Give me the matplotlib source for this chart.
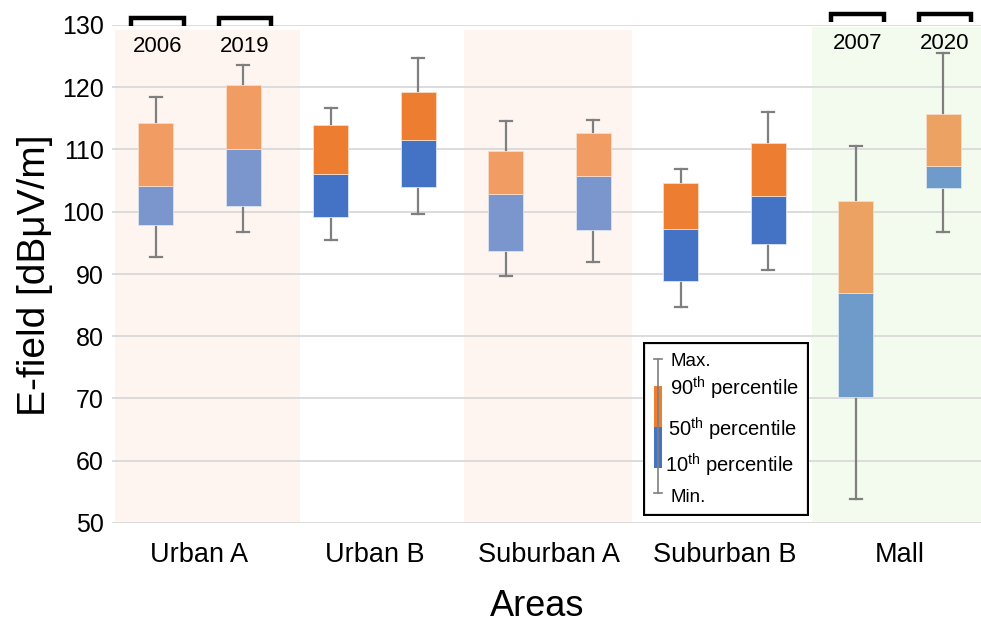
import numpy as np
import matplotlib
matplotlib.use("Agg")
import matplotlib.pyplot as plt
from matplotlib.patches import Rectangle

plt.rcParams['font.family'] = ['Liberation Sans', 'DejaVu Sans']
plt.rcParams['mathtext.fontset'] = 'custom'
plt.rcParams['mathtext.rm'] = 'Liberation Sans'

# measured E-field statistics per area, two campaigns each
areas = ["Urban A", "Urban B", "Suburban A", "Suburban B", "Mall"]
old_min = [92.8, 95.5, 89.7, 84.7, 53.9]
old_p10 = [97.8, 99.2, 93.7, 88.8, 70.3]
old_p50 = [104.2, 106.0, 102.8, 97.2, 87.0]
old_p90 = [114.2, 114.0, 109.8, 104.6, 101.8]
old_max = [118.5, 116.7, 114.5, 106.8, 110.6]

new_min = [96.7, 99.7, 91.9, 90.6, 96.7]
new_p10 = [101.0, 104.0, 97.0, 94.8, 103.8]
new_p50 = [110.0, 111.5, 105.7, 102.5, 107.4]
new_p90 = [120.4, 119.2, 112.6, 111.1, 115.7]
new_max = [123.6, 124.7, 114.7, 116.1, 125.5]

# years marked above the shaded groups
year_labels = {0: ("2006", "2019"), 4: ("2007", "2020")}

# colour pairs (upper half, lower half) for each area
upper_cols = ["#F19C62", "#ED7D31", "#F19C62", "#ED7D31", "#EBA262"]
lower_cols = ["#7B96CC", "#4472C4", "#7B96CC", "#4472C4", "#6F9BCB"]
whisker_col = "#7F7F7F"


def draw_box(ax, x, lo, p10, p50, p90, hi, c_up, c_low, w=0.2):
    ax.plot([x, x], [lo, hi], color=whisker_col, lw=1.6, zorder=2)
    for y in (lo, hi):
        ax.plot([x - 0.035, x + 0.035], [y, y], color=whisker_col, lw=1.6, zorder=2)
    ax.add_patch(Rectangle((x - w / 2, p10), w, p50 - p10, facecolor=c_low,
                           edgecolor="#DCE4F2", lw=0.6, zorder=3))
    ax.add_patch(Rectangle((x - w / 2, p50), w, p90 - p50, facecolor=c_up,
                           edgecolor="#F8DCC8", lw=0.6, zorder=3))


fig = plt.figure(figsize=(9.81, 6.25), dpi=100)
ax = fig.add_axes([112 / 981, 102 / 625, 875 / 981, 498 / 625])

x = np.arange(len(areas)) + 0.5

# background shading of alternate groups
ax.axvspan(0.017, 1.074, ymin=0, ymax=0.99, color="#FEF5F1", zorder=0, lw=0)
ax.axvspan(2.011, 2.971, ymin=0, ymax=0.99, color="#FEF5F1", zorder=0, lw=0)
ax.axvspan(4.0, 5.0, ymin=0, ymax=0.995, color="#F3FBEE", zorder=0, lw=0)

for i in range(len(areas)):
    draw_box(ax, x[i] - 0.25, old_min[i], old_p10[i], old_p50[i], old_p90[i],
             old_max[i], upper_cols[i], lower_cols[i])
    draw_box(ax, x[i] + 0.25, new_min[i], new_p10[i], new_p50[i], new_p90[i],
             new_max[i], upper_cols[i], lower_cols[i])

# year brackets on top of the plot
for i, (y_old, y_new) in year_labels.items():
    top, foot, ty = (131.1, 129.8, 126.6) if i == 0 else (131.8, 130.5, 127.1)
    for dx, lab in ((-0.25, y_old), (0.25, y_new)):
        xc = x[i] + dx + 0.01
        ax.plot([xc - 0.15, xc - 0.15, xc + 0.15, xc + 0.15], [foot, top, top, foot],
                color="black", lw=3.2, clip_on=False, zorder=5,
                solid_joinstyle="miter", solid_capstyle="butt")
        ax.text(xc, ty, lab, ha="center", va="center", fontsize=16, zorder=5)

ax.set_xlim(0, 5)
ax.set_ylim(50, 130)
ax.set_yticks(np.arange(50, 131, 10))
ax.tick_params(axis="y", labelsize=18, length=0, pad=6)
ax.set_xticks(x)
ax.set_xticklabels(areas, fontsize=19.5)
ax.tick_params(axis="x", length=0, pad=14)
ax.grid(axis="y", color="#D9D9D9", lw=1.3, zorder=1)
ax.set_axisbelow(True)
for s in ax.spines.values():
    s.set_visible(False)

fig.text(35 / 981, 1 - 275 / 625, "E-field [dB\u03bcV/m]", rotation=90,
         ha="center", va="center", fontsize=28)
fig.text(537 / 981, 1 - 607 / 625, "Areas", ha="center", va="center", fontsize=26)

# explanatory key for the box symbols
lg = fig.add_axes([643 / 981, 109 / 625, 166 / 981, 174 / 625])
lg.set_xlim(0, 166)
lg.set_ylim(174, 0)
lg.axis("off")
lg.add_patch(Rectangle((1, 1), 164, 172, facecolor="white", edgecolor="black", lw=1.6))
lg.plot([15, 15], [17, 151], color=whisker_col, lw=1.2)
lg.plot([11, 19], [17, 17], color=whisker_col, lw=1.2)
lg.plot([11, 19], [151, 151], color=whisker_col, lw=1.2)
lg.add_patch(Rectangle((11, 44), 8, 41, facecolor="#ED7D31", lw=0))
lg.add_patch(Rectangle((11, 85), 8, 41, facecolor="#4472C4", lw=0))
lg.text(28, 19, "Max.", va="center", fontsize=13.5)
lg.text(27, 46, r"90$^{\rm th}$ percentile", va="center", fontsize=14.5)
lg.text(25, 87, r"50$^{\rm th}$ percentile", va="center", fontsize=14.5)
lg.text(22, 123, r"10$^{\rm th}$ percentile", va="center", fontsize=14.5)
lg.text(28, 155, "Min.", va="center", fontsize=13.5)

fig.savefig("out.png", dpi=100)
